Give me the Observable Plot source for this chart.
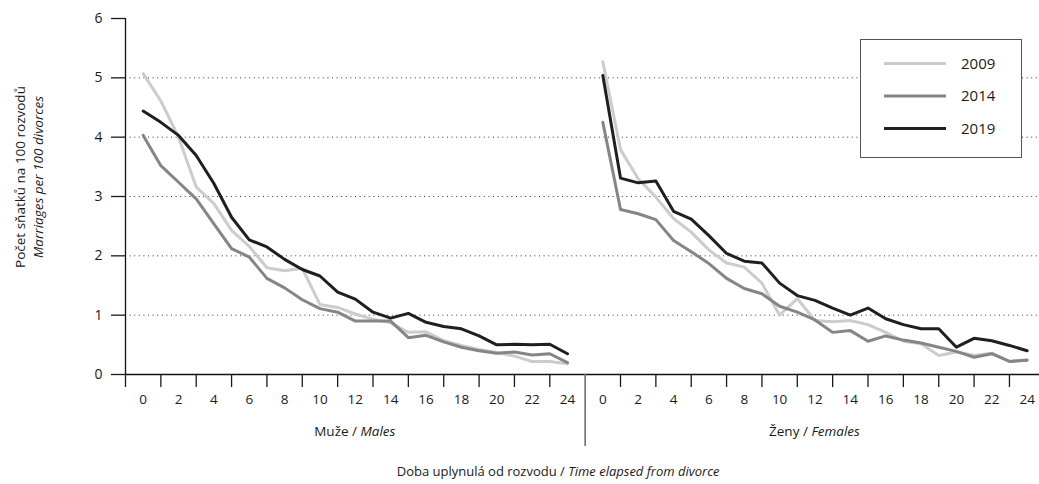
<!DOCTYPE html>
<html>
<head>
<meta charset="utf-8">
<script src="https://cdn.jsdelivr.net/npm/d3@7"></script>
<script src="https://cdn.jsdelivr.net/npm/@observablehq/plot@0.6"></script>
<style>
  body { margin: 0; background: #fff; }
  #chart { position: relative; width: 1039px; height: 484px; }
</style>
</head>
<body>
<div id="chart"></div>
<script>
// ---- Data ----
const elapsed = [0,1,2,3,4,5,6,7,8,9,10,11,12,13,14,15,16,17,18,19,20,21,22,23,24];
const years = ["2009", "2014", "2019"];
const yearColors = ["#cccccc", "#858585", "#1f1f1f"];

const males2009 = [5.07,4.61,4.00,3.16,2.88,2.43,2.16,1.80,1.75,1.79,1.18,1.13,1.02,0.93,0.87,0.71,0.72,0.57,0.49,0.42,0.37,0.31,0.22,0.22,0.18];
const males2014 = [4.03,3.52,3.24,2.96,2.54,2.12,1.98,1.62,1.46,1.26,1.11,1.05,0.90,0.90,0.90,0.62,0.66,0.55,0.46,0.40,0.36,0.38,0.33,0.35,0.20];
const males2019 = [4.44,4.25,4.03,3.69,3.22,2.65,2.27,2.15,1.94,1.77,1.66,1.39,1.27,1.05,0.95,1.03,0.88,0.81,0.77,0.65,0.50,0.51,0.50,0.51,0.35];

const females2009 = [5.27,3.79,3.30,2.99,2.63,2.40,2.10,1.88,1.81,1.54,1.00,1.28,0.91,0.89,0.91,0.84,0.71,0.56,0.52,0.32,0.38,0.32,0.36,0.22,0.25];
const females2014 = [4.25,2.78,2.71,2.61,2.26,2.07,1.87,1.62,1.45,1.36,1.15,1.05,0.92,0.71,0.74,0.56,0.65,0.58,0.53,0.46,0.39,0.29,0.35,0.22,0.24];
const females2019 = [5.04,3.31,3.23,3.26,2.75,2.62,2.34,2.04,1.91,1.88,1.54,1.33,1.25,1.12,1.00,1.12,0.94,0.84,0.77,0.77,0.46,0.61,0.57,0.49,0.40];

const tickLabels = ["0","2","4","6","8","10","12","14","16","18","20","22","24"];
const yTicks = [0,1,2,3,4,5,6];
const gridValues = [1,2,3,4,5];
const groupLabels = [["Muže / ", "Males"], ["Ženy / ", "Females"]];
const yTitle = ["Počet sňatků na 100 rozvodů", "Marriages per 100 divorces"];
const xTitle = ["Doba uplynulá od rozvodu / ", "Time elapsed from divorce"];

// ---- Layout helpers ----
const femaleOffset = 26;   // females panel starts after the divider
const series = [
  {sex: "M", year: "2009", values: males2009},
  {sex: "M", year: "2014", values: males2014},
  {sex: "M", year: "2019", values: males2019},
  {sex: "F", year: "2009", values: females2009},
  {sex: "F", year: "2014", values: females2014},
  {sex: "F", year: "2019", values: females2019}
];
const rows = series.flatMap(s => s.values.map((v, i) => ({
  u: elapsed[i] + (s.sex === "F" ? femaleOffset : 0),
  v, year: s.year, key: s.sex + s.year
})));

const labelMap = new Map();
tickLabels.forEach(l => { labelMap.set(+l, l); labelMap.set(+l + femaleOffset, l); });
const labelTicks = [...labelMap.keys()];
const oddT = elapsed.filter(t => t % 2 === 1);
const minorTicks = [-1, ...oddT, ...oddT.map(t => t + femaleOffset)];
const dividerTick = [femaleOffset - 1];

const svg = Plot.plot({
  width: 1039,
  height: 484,
  marginLeft: 125,
  marginRight: 0,
  marginTop: 18,
  marginBottom: 110,
  style: {fontFamily: "Open Sans", fontSize: "13px", color: "#1a1a1a", background: "#fff"},
  x: {domain: [-1, 50.7], label: null},
  y: {domain: [0, 6], label: null},
  color: {domain: years, range: yearColors},
  marks: [
    Plot.ruleY(gridValues, {stroke: "#333", strokeDasharray: "1,3.6", strokeWidth: 1}),
    Plot.line(rows, {x: "u", y: "v", z: "key", stroke: "year", strokeWidth: 3}),
    Plot.ruleY([0], {stroke: "#111", strokeWidth: 1.3}),
    Plot.ruleX([-1], {stroke: "#111", strokeWidth: 1.3}),
    Plot.axisY(yTicks, {tickSize: 14, tickPadding: 9, tickFormat: d => String(d), label: null, fontSize: 14, strokeWidth: 1.3}),
    Plot.axisX(minorTicks, {tickSize: 13, tickFormat: () => "", label: null, strokeWidth: 1.3}),
    Plot.axisX(dividerTick, {tickSize: 72, tickFormat: () => "", label: null, stroke: "#6e6e6e", strokeWidth: 1.6}),
    Plot.axisX(labelTicks, {tickSize: 0, tickPadding: 20, tickFormat: u => labelMap.get(u), label: null, fontSize: 13.5})
  ]
});

const x = svg.scale("x");
const g = d3.select(svg).append("g").attr("fill", "#1a1a1a").attr("font-family", "Open Sans");

// group labels under the axis
[[12, groupLabels[0]], [38, groupLabels[1]]].forEach(([u, parts]) => {
  const t = g.append("text").attr("x", x.apply(u)).attr("y", 436)
    .attr("text-anchor", "middle").attr("font-size", 13.5);
  t.append("tspan").text(parts[0]);
  t.append("tspan").attr("font-style", "italic").text(parts[1]);
});

// x title
const xt = g.append("text").attr("x", x.apply(23.5)).attr("y", 476)
  .attr("text-anchor", "middle").attr("font-size", 13);
xt.append("tspan").text(xTitle[0]);
xt.append("tspan").attr("font-style", "italic").text(xTitle[1]);

// y title (two lines, rotated)
g.append("text").attr("transform", "translate(25,177) rotate(-90)")
  .attr("text-anchor", "middle").attr("font-size", 13.5).text(yTitle[0]);
g.append("text").attr("transform", "translate(43,177) rotate(-90)")
  .attr("text-anchor", "middle").attr("font-size", 13.5).attr("font-style", "italic").text(yTitle[1]);

// legend box
const lg = d3.select(svg).append("g").attr("font-family", "Open Sans").attr("text-anchor", "start");
lg.append("rect").attr("x", 860.5).attr("y", 39.5).attr("width", 161).attr("height", 118)
  .attr("fill", "#fff").attr("stroke", "#555").attr("stroke-width", 1);
years.forEach((yr, i) => {
  const yy = 63.5 + i * 32.5;
  lg.append("line").attr("x1", 884).attr("x2", 946).attr("y1", yy).attr("y2", yy)
    .attr("stroke", yearColors[i]).attr("stroke-width", 3);
  lg.append("text").attr("x", 961).attr("y", yy).attr("dy", "0.35em")
    .attr("text-anchor", "start").attr("font-size", 15).attr("fill", "#1a1a1a").text(yr);
});

document.getElementById("chart").appendChild(svg);
</script>
</body>
</html>
